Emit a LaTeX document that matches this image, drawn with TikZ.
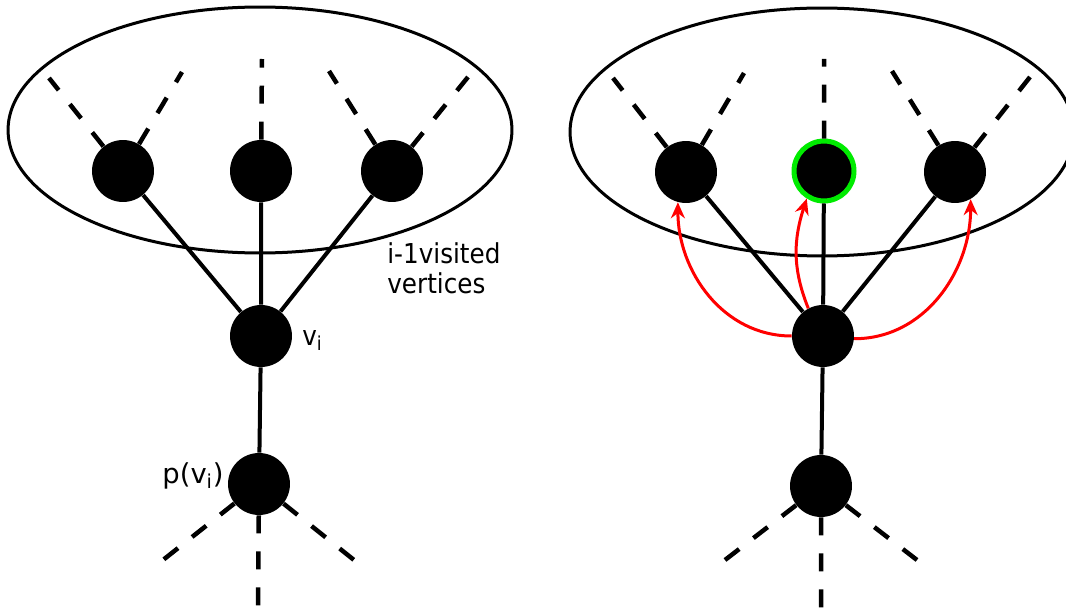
\documentclass[tikz,border=0pt]{standalone}
\usepackage{fontspec}
\setmainfont{DejaVu Sans}
\newfontfamily\narrowfont[FakeStretch=0.9]{DejaVu Sans}
\usetikzlibrary{arrows.meta}
\tikzset{>={Stealth[length=0.32cm,width=0.28cm]}}
\tikzset{
  vert/.style={circle,fill=black,inner sep=0pt,minimum size=1.24cm},
  tedge/.style={line width=0.08cm},
  dedge/.style={line width=0.09cm,dash pattern=on 0.36cm off 0.36cm},
  redarc/.style={->,red,line width=0.06cm},
  narrowtext/.style={font=\narrowfont\fontsize{15.6}{17}\selectfont}
}

\begin{document}
\begin{tikzpicture}[x=0.02cm,y=-0.02cm,
    font=\fontsize{15.6}{17}\selectfont]
        \useasboundingbox (0,0) rectangle (1066,608);
        % left tree
        \draw[line width=0.06cm] (260,130) ellipse [x radius=5.04cm,y radius=2.46cm];
        \node[vert] (l1) at (123,171) {};
        \node[vert] (l2) at (261,171) {};
        \node[vert] (l3) at (392,171) {};
        \node[vert] (lv) at (261,336) {};
        \node[vert] (lp) at (259,484) {};
        \coordinate (l1a) at (49,78);
        \coordinate (l1b) at (182,72);
        \coordinate (l2a) at (262,59);
        \coordinate (l3a) at (329,71);
        \coordinate (l3b) at (468,77);
        \coordinate (lpa) at (163,560);
        \coordinate (lpb) at (258,614);
        \coordinate (lpc) at (354,560);
        \draw[tedge] (lv) -- (l1) (lv) -- (l2) (lv) -- (l3) (lv) -- (lp);
        \draw[dedge] (l1) -- (l1a) (l1) -- (l1b) (l2) -- (l2a)
        (l3) -- (l3a) (l3) -- (l3b);
        \draw[dedge] (lp) -- (lpa) (lp) -- (lpb) (lp) -- (lpc);
        \node[anchor=base west,inner sep=0pt,narrowtext] (vilab) at (302,345)
        {v\textsubscript{i}};
        \node[anchor=base east,inner sep=0pt] (plab) at (224,483) {p(v\textsubscript{i})};
        \node[anchor=north west,inner sep=0pt,align=left,narrowtext] (vislab)
        at (387,242) {i-1visited\\vertices};
        % right tree
        \draw[line width=0.06cm] (822,132) ellipse [x radius=5.04cm,y radius=2.48cm];
        \node[vert] (r1) at (686,172) {};
        \node[vert,draw={rgb,255:red,0;green,235;blue,0},line width=0.1cm,
        minimum size=1.2cm] (r2) at (824,171) {};
        \node[vert] (r3) at (955,172) {};
        \node[vert] (rv) at (823,336) {};
        \node[vert] (rp) at (821,486) {};
        \coordinate (r1a) at (613,78);
        \coordinate (r1b) at (744,73);
        \coordinate (r2a) at (824,59);
        \coordinate (r3a) at (892,71);
        \coordinate (r3b) at (1030,77);
        \coordinate (rpa) at (725,560);
        \coordinate (rpb) at (821,614);
        \coordinate (rpc) at (917,560);
        \draw[tedge] (rv) -- (r1) (rv) -- (r2) (rv) -- (r3) (rv) -- (rp);
        \draw[dedge] (r1) -- (r1a) (r1) -- (r1b) (r2) -- (r2a)
        (r3) -- (r3a) (r3) -- (r3b);
        \draw[dedge] (rp) -- (rpa) (rp) -- (rpb) (rp) -- (rpc);
        \draw[redarc] (rv.west) to[out=180,in=-90] (r1.-105);
        \draw[redarc] (rv.118) to[out=112,in=-108] (r2.-122);
        \draw[redarc] (rv.-5) to[out=0,in=-90] (r3.-60);
      \end{tikzpicture}
\end{document}
